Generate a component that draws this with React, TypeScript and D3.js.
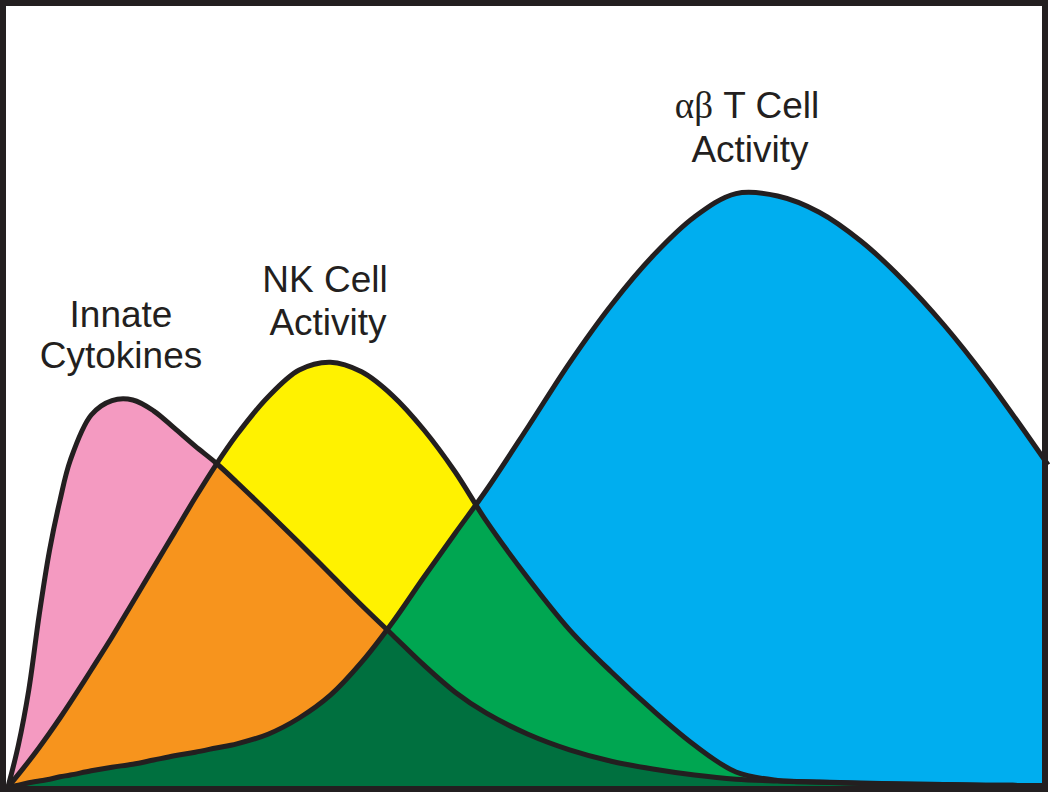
import React from "react";
import * as d3 from "d3";

// shared time grid (arbitrary units, 0..100)
const timePoints = [0, 1, 2, 3, 4, 5, 6, 8, 10, 12, 14, 16, 18, 20, 22, 25, 28, 31, 34, 37, 40, 43, 46, 50, 54, 58, 62, 66, 70, 74, 78, 82, 86, 90, 94, 100];

const innateCytokines = [0, 7, 16.2, 28.7, 39.5, 47.8, 54.5, 62, 64.4, 64.5, 62.7, 59.8, 56.8, 54, 50.8, 45.8, 40.7, 35.5, 30.3, 25.3, 20.3, 15.8, 12.3, 8.8, 6.2, 4.3, 3, 2, 1.3, 1, 0.8, 0.6, 0.5, 0.4, 0.3, 0.25];

const nkActivity = [0, 2.1, 4.3, 6.6, 9.0, 11.5, 14.1, 19.5, 25.0, 30.8, 36.6, 42.4, 48.2, 53.7, 58.7, 65, 69.5, 70.8, 69.2, 65.2, 59.5, 52.5, 44.3, 34.8, 26.2, 19.2, 12.8, 7, 2.5, 1.1, 0.85, 0.65, 0.5, 0.4, 0.3, 0.25];

const tCellActivity = [0, 0.3, 0.7, 1, 1.3, 1.7, 2, 2.7, 3.3, 3.8, 4.5, 5.2, 5.8, 6.5, 7.2, 8.8, 11.5, 15.3, 20.8, 27.5, 35, 42.3, 49.5, 60, 70.7, 80.3, 88.5, 95, 98.9, 98.5, 95.8, 91, 84.6, 77, 68.3, 53.7];

const labels = [
  { lines: ["Innate", "Cytokines"], xs: [121, 121], ys: [327, 368] },
  { lines: ["NK Cell", "Activity"], xs: [325, 328], ys: [292, 335] },
  { lines: ["\u03b1\u03b2 T Cell", "Activity"], xs: [747, 750], ys: [118, 162] },
];

const W = 1050;
const H = 792;
const INK = "#231F20";

export default function App() {
  const x = d3.scaleLinear().domain([0, 100]).range([8, 1048]);
  const y = d3.scaleLinear().domain([0, 100]).range([787, 187]);

  const mk = (vals: number[]) => timePoints.map((t, i) => [t, vals[i]] as [number, number]);
  const curve = d3.curveCatmullRom.alpha(0.5);
  const area = d3
    .area<[number, number]>()
    .x((d) => x(d[0]))
    .y0(y(0) + 6)
    .y1((d) => y(d[1]))
    .curve(curve);
  const line = d3
    .line<[number, number]>()
    .x((d) => x(d[0]))
    .y((d) => y(d[1]))
    .curve(curve);

  const pink = mk(innateCytokines);
  const yellow = mk(nkActivity);
  const blue = mk(tCellActivity);

  const aP = area(pink) || "";
  const aY = area(yellow) || "";
  const aB = area(blue) || "";

  return (
    <svg
      width={W}
      height={H}
      style={{ position: "absolute", left: 0, top: 0, display: "block", background: "#fff" }}
    >
      <defs>
        <clipPath id="clipFrame">
          <rect x={0} y={0} width={W} height={H} />
        </clipPath>
        <clipPath id="clipY">
          <path d={aY} />
        </clipPath>
        <clipPath id="clipB">
          <path d={aB} />
        </clipPath>
      </defs>
      <rect x={0} y={0} width={W} height={H} fill="#fff" />
      <g clipPath="url(#clipFrame)">
        <path d={aP} fill="#F49AC1" />
        <path d={aY} fill="#FFF200" />
        <path d={aB} fill="#00AEEF" />
        <path d={aP} fill="#F7941D" clipPath="url(#clipY)" />
        <path d={aB} fill="#00A651" clipPath="url(#clipY)" />
        <path d={aP} fill="#00703F" clipPath="url(#clipB)" />
        <path d={line(blue) || ""} fill="none" stroke={INK} strokeWidth={5} strokeLinejoin="round" />
        <path d={line(yellow) || ""} fill="none" stroke={INK} strokeWidth={5} strokeLinejoin="round" />
        <path d={line(pink) || ""} fill="none" stroke={INK} strokeWidth={5} strokeLinejoin="round" />
      </g>
      <rect x={3} y={3} width={1042} height={786} fill="none" stroke={INK} strokeWidth={6} />
      {labels.map((l, i) => (
        <g key={i} fontFamily="'Liberation Sans', Arial, sans-serif" fontSize={37} fill={INK} textAnchor="middle">
          {l.lines.map((t, j) =>
            t.startsWith("\u03b1") ? (
              <text key={j} x={l.xs[j]} y={l.ys[j]}>
                <tspan fontFamily="'Liberation Serif', 'Times New Roman', serif">{"\u03b1\u03b2"}</tspan>
                <tspan>{t.slice(2)}</tspan>
              </text>
            ) : (
              <text key={j} x={l.xs[j]} y={l.ys[j]}>
                {t}
              </text>
            )
          )}
        </g>
      ))}
    </svg>
  );
}
